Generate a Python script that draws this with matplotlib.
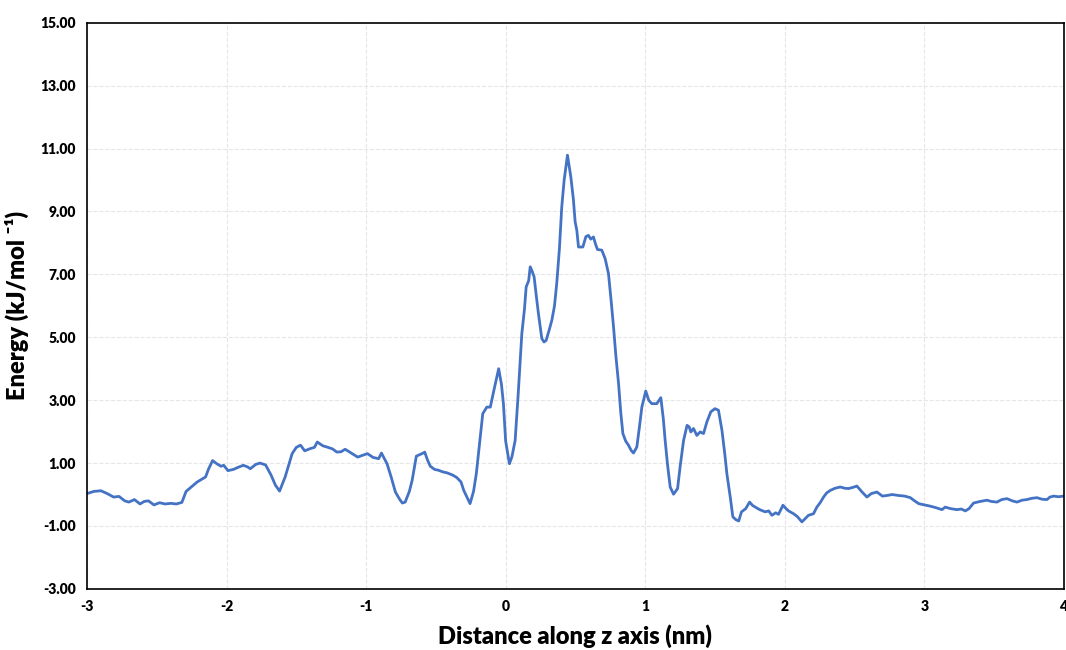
import matplotlib

matplotlib.use("Agg")
import matplotlib.pyplot as plt

# energy profile along z
z_nm = [
    -3.00, -2.95, -2.90, -2.85, -2.81, -2.77, -2.73, -2.70, -2.66, -2.62,
    -2.59, -2.56, -2.52, -2.48, -2.44, -2.40, -2.36, -2.32, -2.29, -2.25,
    -2.21, -2.18, -2.15, -2.13, -2.10, -2.07, -2.04, -2.02, -1.99, -1.95,
    -1.92, -1.88, -1.85, -1.83, -1.79, -1.76, -1.72, -1.68, -1.65, -1.62,
    -1.58, -1.53, -1.50, -1.47, -1.44, -1.40, -1.37, -1.35, -1.31, -1.28,
    -1.24, -1.21, -1.18, -1.15, -1.10, -1.06, -1.03, -0.99, -0.95, -0.91,
    -0.89, -0.85, -0.82, -0.79, -0.76, -0.74, -0.72, -0.69, -0.67, -0.64,
    -0.61, -0.59, -0.58, -0.56, -0.54, -0.51, -0.48, -0.45, -0.42, -0.38,
    -0.35, -0.32, -0.30, -0.27, -0.255, -0.23, -0.21, -0.19, -0.164, -0.135,
    -0.11, -0.08, -0.05, -0.03, -0.016, 0.00, 0.027, 0.045, 0.068, 0.09,
    0.116, 0.135, 0.147, 0.165, 0.176, 0.19, 0.204, 0.22, 0.235, 0.259,
    0.275, 0.29, 0.31, 0.331, 0.35, 0.366, 0.385, 0.402, 0.419, 0.443,
    0.467, 0.485, 0.498, 0.51, 0.522, 0.553, 0.575, 0.593, 0.61, 0.629,
    0.645, 0.658, 0.689, 0.713, 0.737, 0.755, 0.773, 0.79, 0.809, 0.825,
    0.84, 0.86, 0.88, 0.90, 0.916, 0.94, 0.96, 0.976, 1.004, 1.025,
    1.047, 1.083, 1.112, 1.13, 1.143, 1.16, 1.179, 1.203, 1.232, 1.25,
    1.275, 1.30, 1.315, 1.327, 1.346, 1.37, 1.394, 1.418, 1.442, 1.47,
    1.50, 1.525, 1.55, 1.57, 1.585, 1.61, 1.628, 1.65, 1.67, 1.69,
    1.72, 1.748, 1.77, 1.789, 1.82, 1.86, 1.885, 1.908, 1.935, 1.955,
    1.987, 2.01, 2.027, 2.063, 2.09, 2.123, 2.15, 2.17, 2.206, 2.23,
    2.255, 2.278, 2.30, 2.326, 2.36, 2.398, 2.43, 2.457, 2.49, 2.517,
    2.55, 2.589, 2.62, 2.66, 2.70, 2.732, 2.77, 2.815, 2.86, 2.90,
    2.93, 2.96, 3.00, 3.043, 3.085, 3.126, 3.15, 3.19, 3.234, 3.265,
    3.294, 3.32, 3.353, 3.40, 3.449, 3.48, 3.52, 3.555, 3.592, 3.63,
    3.664, 3.70, 3.735, 3.77, 3.807, 3.845, 3.879, 3.90, 3.927, 3.96,
    4.00,
]
energy = [
    0.03, 0.10, 0.12, 0.02, -0.08, -0.06, -0.20, -0.24, -0.16, -0.30,
    -0.22, -0.20, -0.33, -0.26, -0.30, -0.28, -0.30, -0.25, 0.10, 0.25,
    0.40, 0.48, 0.56, 0.80, 1.08, 0.98, 0.90, 0.93, 0.76, 0.80,
    0.86, 0.93, 0.88, 0.82, 0.96, 1.00, 0.94, 0.61, 0.30, 0.11,
    0.56, 1.30, 1.50, 1.57, 1.39, 1.46, 1.50, 1.67, 1.55, 1.51,
    1.45, 1.35, 1.36, 1.44, 1.30, 1.19, 1.24, 1.30, 1.18, 1.14,
    1.32, 0.98, 0.55, 0.08, -0.15, -0.27, -0.24, 0.10, 0.45, 1.22,
    1.28, 1.32, 1.35, 1.10, 0.90, 0.80, 0.77, 0.72, 0.69, 0.62,
    0.54, 0.40, 0.13, -0.15, -0.29, 0.10, 0.67, 1.50, 2.57, 2.78,
    2.78, 3.40, 4.00, 3.50, 2.89, 1.70, 0.98, 1.20, 1.72, 3.20,
    5.12, 5.90, 6.60, 6.80, 7.24, 7.10, 6.92, 6.30, 5.75, 4.96,
    4.85, 4.90, 5.20, 5.54, 6.00, 6.71, 7.80, 9.14, 9.99, 10.79,
    10.10, 9.40, 8.67, 8.40, 7.87, 7.87, 8.20, 8.24, 8.12, 8.19,
    7.95, 7.79, 7.77, 7.50, 7.02, 6.20, 5.33, 4.40, 3.53, 2.60,
    1.94, 1.70, 1.57, 1.40, 1.32, 1.51, 2.20, 2.78, 3.29, 3.00,
    2.89, 2.89, 3.08, 2.40, 1.72, 0.95, 0.24, 0.01, 0.19, 0.88,
    1.72, 2.20, 2.15, 1.99, 2.10, 1.88, 1.99, 1.94, 2.31, 2.63,
    2.73, 2.68, 2.04, 1.30, 0.67, -0.10, -0.71, -0.80, -0.84, -0.55,
    -0.45, -0.24, -0.35, -0.40, -0.48, -0.55, -0.52, -0.66, -0.58, -0.63,
    -0.34, -0.45, -0.52, -0.61, -0.70, -0.87, -0.75, -0.66, -0.61, -0.40,
    -0.25, -0.08, 0.05, 0.13, 0.20, 0.24, 0.20, 0.19, 0.23, 0.27,
    0.10, -0.08, 0.03, 0.08, -0.05, -0.03, 0.00, -0.03, -0.05, -0.10,
    -0.20, -0.29, -0.33, -0.37, -0.42, -0.48, -0.40, -0.45, -0.48, -0.46,
    -0.52, -0.45, -0.27, -0.22, -0.18, -0.22, -0.24, -0.16, -0.13, -0.20,
    -0.24, -0.18, -0.16, -0.12, -0.10, -0.15, -0.16, -0.08, -0.05, -0.07,
    -0.05,
]

x_ticks = [-3, -2, -1, 0, 1, 2, 3, 4]
y_ticks = [-3, -1, 1, 3, 5, 7, 9, 11, 13, 15]

plt.rcParams["font.family"] = ["Lato", "DejaVu Sans"]

fig = plt.figure(figsize=(10.66, 6.5), dpi=100)
ax = fig.add_axes([0.0816, 0.094, 0.9164, 0.871])

ax.plot(z_nm, energy, color="#4472C4", linewidth=2.0, solid_joinstyle="round")

ax.set_xlim(-3, 4)
ax.set_ylim(-3, 15)
ax.set_xticks(x_ticks)
ax.set_yticks(y_ticks)
ax.set_xticklabels([str(t) for t in x_ticks], fontsize=10, fontweight="heavy")
ax.set_yticklabels([f"{t:.2f}" for t in y_ticks], fontsize=10, fontweight="heavy")
ax.tick_params(length=0, pad=8)
ax.grid(color="#e6e6e6", linestyle="--", linewidth=0.8)
ax.set_axisbelow(True)
for sp in ax.spines.values():
    sp.set_color("black")
    sp.set_linewidth(1.2)

ax.set_xlabel("Distance along z axis (nm)", fontsize=17, fontweight="heavy", labelpad=8)
ax.set_ylabel("Energy (kJ/mol \u207b\u00b9)", fontsize=17, fontweight="heavy", labelpad=8)

fig.savefig("out.png", dpi=100)
